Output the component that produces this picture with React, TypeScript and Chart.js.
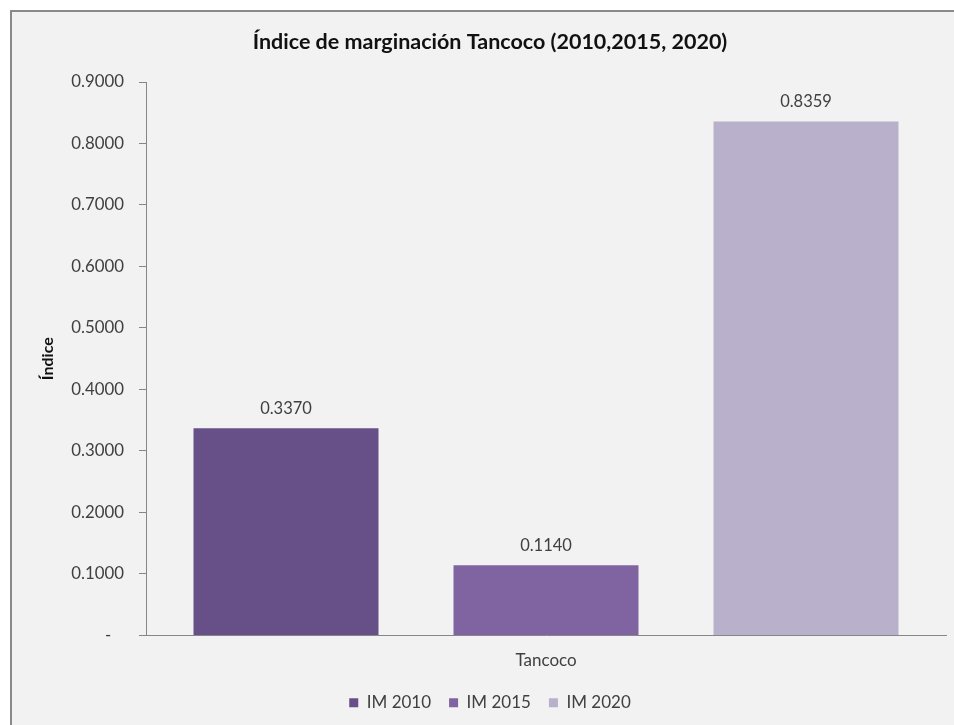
import React, { useEffect, useRef } from 'react';
import { Chart, registerables } from 'chart.js';

Chart.register(...registerables);

const categories = ['Tancoco'];
const seriesLabels = ['IM 2010', 'IM 2015', 'IM 2020'];
const im2010 = [0.337];
const im2015 = [0.114];
const im2020 = [0.8359];
const seriesValues = [im2010, im2015, im2020];
const seriesColors = ['#675087', '#8064A2', '#B9B0CB'];
const yMin = 0;
const yMax = 0.9;
const yStep = 0.1;
const chartTitle = 'Índice de marginación Tancoco (2010,2015, 2020)';
const yAxisTitle = 'Índice';

const FONT = 'Lato';
const TEXT = '#404040';
const AXIS = '#868686';

const frameBackground = {
  id: 'frameBackground',
  beforeDraw(chart: any) {
    const ctx = chart.ctx;
    ctx.save();
    ctx.fillStyle = '#ffffff';
    ctx.fillRect(0, 0, chart.width, chart.height);
    ctx.fillStyle = '#f2f2f2';
    ctx.fillRect(11, 11, chart.width - 11, chart.height - 11);
    ctx.strokeStyle = '#8a8a8a';
    ctx.lineWidth = 2;
    ctx.beginPath();
    ctx.moveTo(11, chart.height);
    ctx.lineTo(11, 11);
    ctx.lineTo(chart.width, 11);
    ctx.stroke();
    ctx.restore();
  },
};

const valueLabels = {
  id: 'valueLabels',
  afterDatasetsDraw(chart: any) {
    const ctx = chart.ctx;
    ctx.save();
    ctx.font = `16.5px ${FONT}`;
    ctx.fillStyle = TEXT;
    ctx.textAlign = 'center';
    ctx.textBaseline = 'middle';
    chart.data.datasets.forEach((ds: any, i: number) => {
      const meta = chart.getDatasetMeta(i);
      meta.data.forEach((bar: any, j: number) => {
        const v = ds.data[j];
        ctx.fillText(Number(v).toFixed(4), bar.x, bar.y - 20);
      });
    });
    ctx.restore();
  },
};

export default function App() {
  const ref = useRef<HTMLCanvasElement | null>(null);

  useEffect(() => {
    if (!ref.current) return;
    Chart.defaults.font.family = FONT;
    const chart = new Chart(ref.current, {
      type: 'bar',
      data: {
        labels: categories,
        datasets: seriesLabels.map((label, i) => ({
          label,
          data: seriesValues[i],
          backgroundColor: seriesColors[i],
          borderWidth: 0,
          categoryPercentage: 0.975,
          barPercentage: 0.7115,
        })),
      },
      options: {
        responsive: false,
        animation: false,
        layout: { padding: { left: 34, right: 8, top: 0, bottom: 3.8 } },
        plugins: {
          title: {
            display: true,
            text: chartTitle,
            color: '#111111',
            font: { size: 21.5, weight: 'bold' },
            padding: { top: 29.1, bottom: 27.1 },
          },
          legend: {
            position: 'bottom',
            labels: {
              boxWidth: 9,
              boxHeight: 9,
              color: TEXT,
              font: { size: 17 },
              padding: 18,
            },
          },
          tooltip: { enabled: false },
        },
        scales: {
          x: {
            grid: { display: false, drawTicks: false },
            border: { display: true, color: AXIS, width: 1 },
            ticks: { color: TEXT, font: { size: 17 }, padding: 15 },
            afterFit: (s: any) => {
              s.height = 40.8;
            },
          },
          y: {
            min: yMin,
            max: yMax,
            ticks: {
              stepSize: yStep,
              padding: 15,
              color: TEXT,
              font: { size: 16.8 },
              callback: (v: any) => (Number(v) === 0 ? '-   ' : Number(v).toFixed(4)),
            },
            grid: {
              display: true,
              drawOnChartArea: false,
              drawTicks: true,
              tickLength: 7,
              color: AXIS,
            },
            border: { display: true, color: AXIS },
            title: {
              display: true,
              text: yAxisTitle,
              color: '#111111',
              font: { size: 16, weight: 'bold' },
              padding: { top: 4, bottom: 4 },
            },
            afterFit: (s: any) => {
              s.width = 112;
            },
          },
        },
      },
      plugins: [frameBackground, valueLabels],
    });
    return () => chart.destroy();
  }, []);

  return (
    <div style={{ position: 'fixed', left: 0, top: 0, width: 954, height: 725, overflow: 'hidden' }}>
      <canvas ref={ref} width={954} height={725} style={{ display: 'block', width: 954, height: 725 }} />
    </div>
  );
}
